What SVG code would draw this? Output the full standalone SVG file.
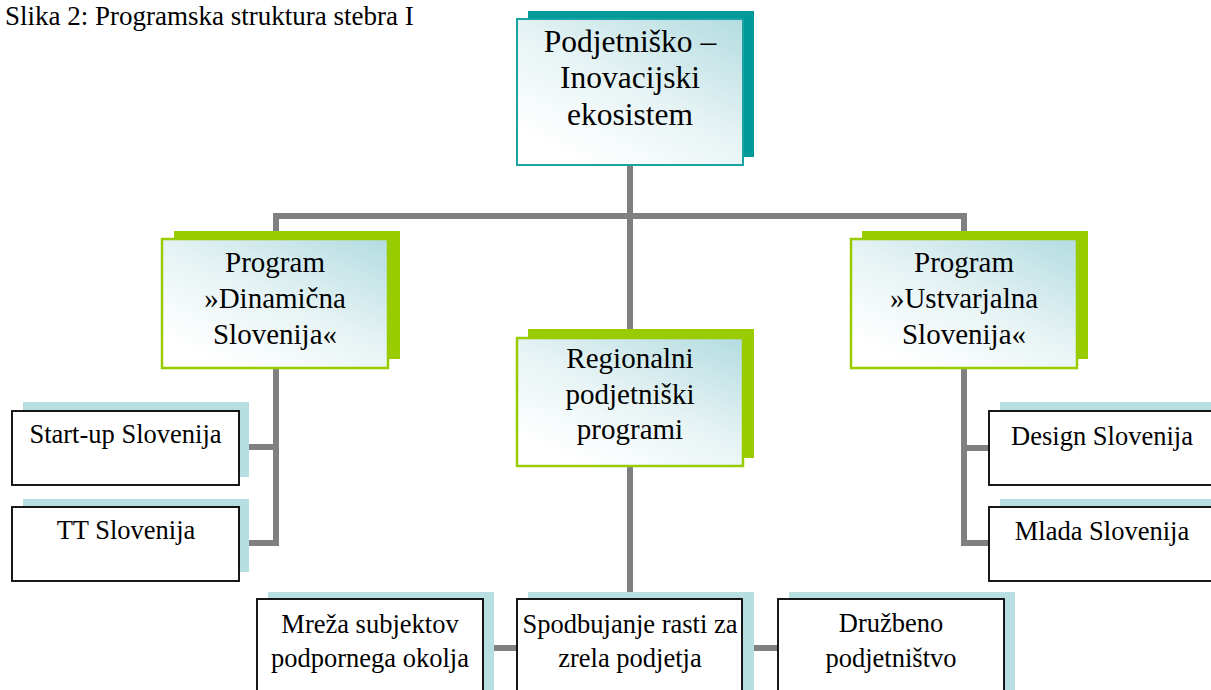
<svg xmlns="http://www.w3.org/2000/svg" width="1211" height="690" viewBox="0 0 1211 690" font-family="'Liberation Serif','Times New Roman',serif">
<defs>
<linearGradient id="g" x1="1" y1="0" x2="0.25" y2="0.95">
<stop offset="0" stop-color="#b3dce0"/>
<stop offset="0.55" stop-color="#e6f3f4"/>
<stop offset="1" stop-color="#ffffff"/>
</linearGradient>
<style>
text{font-family:"Liberation Serif","Times New Roman",serif;fill:#000;text-anchor:middle}
.cap{text-anchor:start;font-size:27px}
.big{font-size:31.5px}
.mid{font-size:29px}
.sm{font-size:26.5px}
.conn{stroke:#808080;stroke-width:6;fill:none}
.shT{fill:#009999}
.shG{fill:#99cc00}
.shB{fill:#b7dfe2}
.frT{fill:url(#g);stroke:#1aa3a3;stroke-width:2}
.frG{fill:url(#g);stroke:#99cc00;stroke-width:2.5}
.frB{fill:#fff;stroke:#000;stroke-width:1.8}
</style>
</defs>
<rect width="1211" height="690" fill="#fff"/>
<text class="cap" x="5" y="25">Slika 2: Programska struktura stebra I</text>
<g id="connectors">
<path class="conn" d="M630 166 V216 M276 239 V216 H964 V239 M630 216 V338 M630 466 V593"/>
<path class="conn" d="M276 368 V543 H249 M276 447 H249"/>
<path class="conn" d="M964 368 V543 H989 M964 448 H989"/>
<path class="conn" d="M483 648 H517 M742 648 H778"/>
</g>
<g id="n-top">
<rect class="shT" x="528" y="11" width="226" height="146"/>
<rect class="frT" x="517" y="19" width="226" height="146"/>
<text class="big" x="630" y="52">Podjetniško –</text>
<text class="big" x="630" y="88">Inovacijski</text>
<text class="big" x="630" y="125">ekosistem</text>
</g>
<g id="n-dinamicna">
<rect class="shG" x="174" y="231" width="226" height="128"/>
<rect class="frG" x="162" y="239" width="226" height="129"/>
<text class="mid" x="275" y="272">Program</text>
<text class="mid" x="275" y="308">»Dinamična</text>
<text class="mid" x="275" y="344">Slovenija«</text>
</g>
<g id="n-ustvarjalna">
<rect class="shG" x="862" y="231" width="226" height="128"/>
<rect class="frG" x="851" y="239" width="226" height="129"/>
<text class="mid" x="964" y="272">Program</text>
<text class="mid" x="964" y="308">»Ustvarjalna</text>
<text class="mid" x="964" y="344">Slovenija«</text>
</g>
<g id="n-regionalni">
<rect class="shG" x="528" y="329" width="226" height="129"/>
<rect class="frG" x="517" y="338" width="226" height="128"/>
<text class="mid" x="630" y="368">Regionalni</text>
<text class="mid" x="630" y="404">podjetniški</text>
<text class="mid" x="630" y="439">programi</text>
</g>
<g id="n-startup">
<rect class="shB" x="23" y="402" width="226" height="75"/>
<rect class="frB" x="12" y="411" width="227" height="74"/>
<text class="sm" x="125.5" y="443">Start-up Slovenija</text>
</g>
<g id="n-tt">
<rect class="shB" x="23" y="499" width="226" height="73"/>
<rect class="frB" x="12" y="507" width="227" height="74"/>
<text class="sm" x="126" y="539">TT Slovenija</text>
</g>
<g id="n-design">
<rect class="shB" x="1000" y="402" width="226" height="75"/>
<rect class="frB" x="989" y="411" width="227" height="74"/>
<text class="sm" x="1102" y="445">Design Slovenija</text>
</g>
<g id="n-mlada">
<rect class="shB" x="1000" y="499" width="226" height="73"/>
<rect class="frB" x="989" y="507" width="227" height="74"/>
<text class="sm" x="1102" y="540">Mlada Slovenija</text>
</g>
<g id="n-mreza">
<rect class="shB" x="268" y="592" width="226" height="110"/>
<rect class="frB" x="257" y="599" width="226" height="110"/>
<text class="sm" x="370" y="633">Mreža subjektov</text>
<text class="sm" x="370" y="667">podpornega okolja</text>
</g>
<g id="n-spodbujanje">
<rect class="shB" x="528" y="592" width="226" height="110"/>
<rect class="frB" x="517" y="599" width="225" height="110"/>
<text class="sm" x="630" y="633">Spodbujanje rasti za</text>
<text class="sm" x="630" y="667">zrela podjetja</text>
</g>
<g id="n-druzbeno">
<rect class="shB" x="789" y="592" width="226" height="110"/>
<rect class="frB" x="778" y="599" width="226" height="110"/>
<text class="sm" x="891" y="632">Družbeno</text>
<text class="sm" x="891" y="667">podjetništvo</text>
</g>
</svg>
